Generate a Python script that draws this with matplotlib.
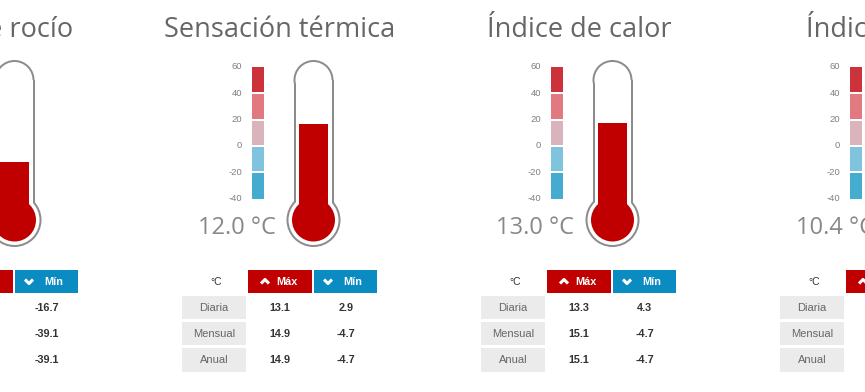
import matplotlib
matplotlib.use("Agg")
import matplotlib.pyplot as plt
from matplotlib.patches import Rectangle, Circle

# --- datos ---
titulos = ["Punto de rocío", "Sensación térmica", "Índice de calor", "Índice THW"]
valores = [-11.8, 12.0, 13.0, 10.4]          # valor actual (°C)
max_diaria = [-10.2, 13.1, 13.3, 11.2]
max_mensual = [4.1, 14.9, 15.1, 13.8]
max_anual = [4.1, 14.9, 15.1, 13.8]
min_diaria = [-16.7, 2.9, 4.3, 1.9]
min_mensual = [-39.1, -4.7, -4.7, -6.1]
min_anual = [-39.1, -4.7, -4.7, -6.1]
filas = ["Diaria", "Mensual", "Anual"]
escala_ticks = [60, 40, 20, 0, -20, -40]
escala_colores = ["#cc3239", "#e07a80", "#d9b4bc", "#7fc3df", "#45acd0"]

ROJO = "#c00000"
AZUL = "#0a8bc2"
GRIS_BORDE = "#8c8c8c"

fig = plt.figure(figsize=(8.65, 3.92), dpi=100)
fig.patch.set_facecolor("white")
ax = fig.add_axes([0, 0, 1, 1])
ax.set_xlim(0, 865)
ax.set_ylim(392, 0)
ax.axis("off")

PASO = 299          # separación horizontal entre paneles (px)
OFF0 = -299         # desplazamiento del primer panel


def y_escala(v):
    return 66.7 + (60 - v) * 1.32


def y_termo(v):
    return 143.5 - 1.6 * v


TIT = dict(family=["Open Sans", "DejaVu Sans"])
TAB = dict(family=["Liberation Sans", "DejaVu Sans"])

for i, titulo in enumerate(titulos):
    dx = OFF0 + i * PASO

    # título
    ax.text(280 + dx, 30, titulo, ha="center", va="center",
            fontsize=19.5, color="#666666", **TIT)

    # escala de colores
    for k, col in enumerate(escala_colores):
        top = y_escala(escala_ticks[k]) + (0 if k == 0 else 1)
        bot = y_escala(escala_ticks[k + 1]) - (0 if k == len(escala_colores) - 1 else 1)
        ax.add_patch(Rectangle((252 + dx, top), 12, bot - top, color=col, lw=0))
    for t in escala_ticks:
        ax.text(242 + dx, y_escala(t), str(t), ha="right", va="center",
                fontsize=6.8, color="#808080", **TAB)

    # termómetro: contorno gris, interior blanco, relleno rojo
    cx = 313.5
    for half, rb, col in [(20, 27, GRIS_BORDE), (18, 25, "white")]:
        ax.add_patch(Rectangle((cx - half + dx, 80), 2 * half, 140, color=col, lw=0))
        ax.add_patch(Circle((cx + dx, 80), half, color=col, lw=0))
        ax.add_patch(Circle((cx + dx, 220), rb, color=col, lw=0))
    ytop = y_termo(valores[i])
    ax.add_patch(Rectangle((cx - 14.5 + dx, ytop), 29, 220 - ytop, color=ROJO, lw=0))
    ax.add_patch(Circle((cx + dx, 220), 21.5, color=ROJO, lw=0))

    # valor actual
    ax.text(275.5 + dx, 228, f"{valores[i]:.1f} °C", ha="right", va="center",
            fontsize=17, color="#888888", **TIT)

    # tabla
    ax.text(215.7 + dx, 281.7, "°C", ha="center", va="center",
            fontsize=7.5, color="#333333", **TAB)
    ax.add_patch(Rectangle((248 + dx, 270), 63.7, 23.3, color=ROJO, lw=0))
    ax.add_patch(Rectangle((314 + dx, 270), 62.7, 23.3, color=AZUL, lw=0))
    ax.plot([261 + dx, 265 + dx, 269 + dx], [283.5, 279.5, 283.5],
            color="white", lw=2.2, solid_capstyle="butt")
    ax.plot([324 + dx, 328 + dx, 332 + dx], [279.5, 283.5, 279.5],
            color="white", lw=2.2, solid_capstyle="butt")
    ax.text(287 + dx, 281.7, "Máx", ha="center", va="center",
            fontsize=7.8, color="white", fontweight="bold", **TAB)
    ax.text(353 + dx, 281.7, "Mín", ha="center", va="center",
            fontsize=7.8, color="white", fontweight="bold", **TAB)

    maxs = [max_diaria[i], max_mensual[i], max_anual[i]]
    mins = [min_diaria[i], min_mensual[i], min_anual[i]]
    for r, fila in enumerate(filas):
        yc = 307.7 + r * 26.05
        ax.add_patch(Rectangle((181.7 + dx, yc - 11.7), 64.3, 23.4,
                               color="#ebebeb", lw=0))
        ax.text(214 + dx, yc, fila, ha="center", va="center",
                fontsize=8, color="#666666", **TAB)
        ax.text(280 + dx, yc, f"{maxs[r]:.1f}", ha="center", va="center",
                fontsize=7.8, color="#333333", fontweight="bold", **TAB)
        ax.text(345.7 + dx, yc, f"{mins[r]:.1f}", ha="center", va="center",
                fontsize=7.8, color="#333333", fontweight="bold", **TAB)

fig.savefig("out.png", dpi=100, facecolor="white")
